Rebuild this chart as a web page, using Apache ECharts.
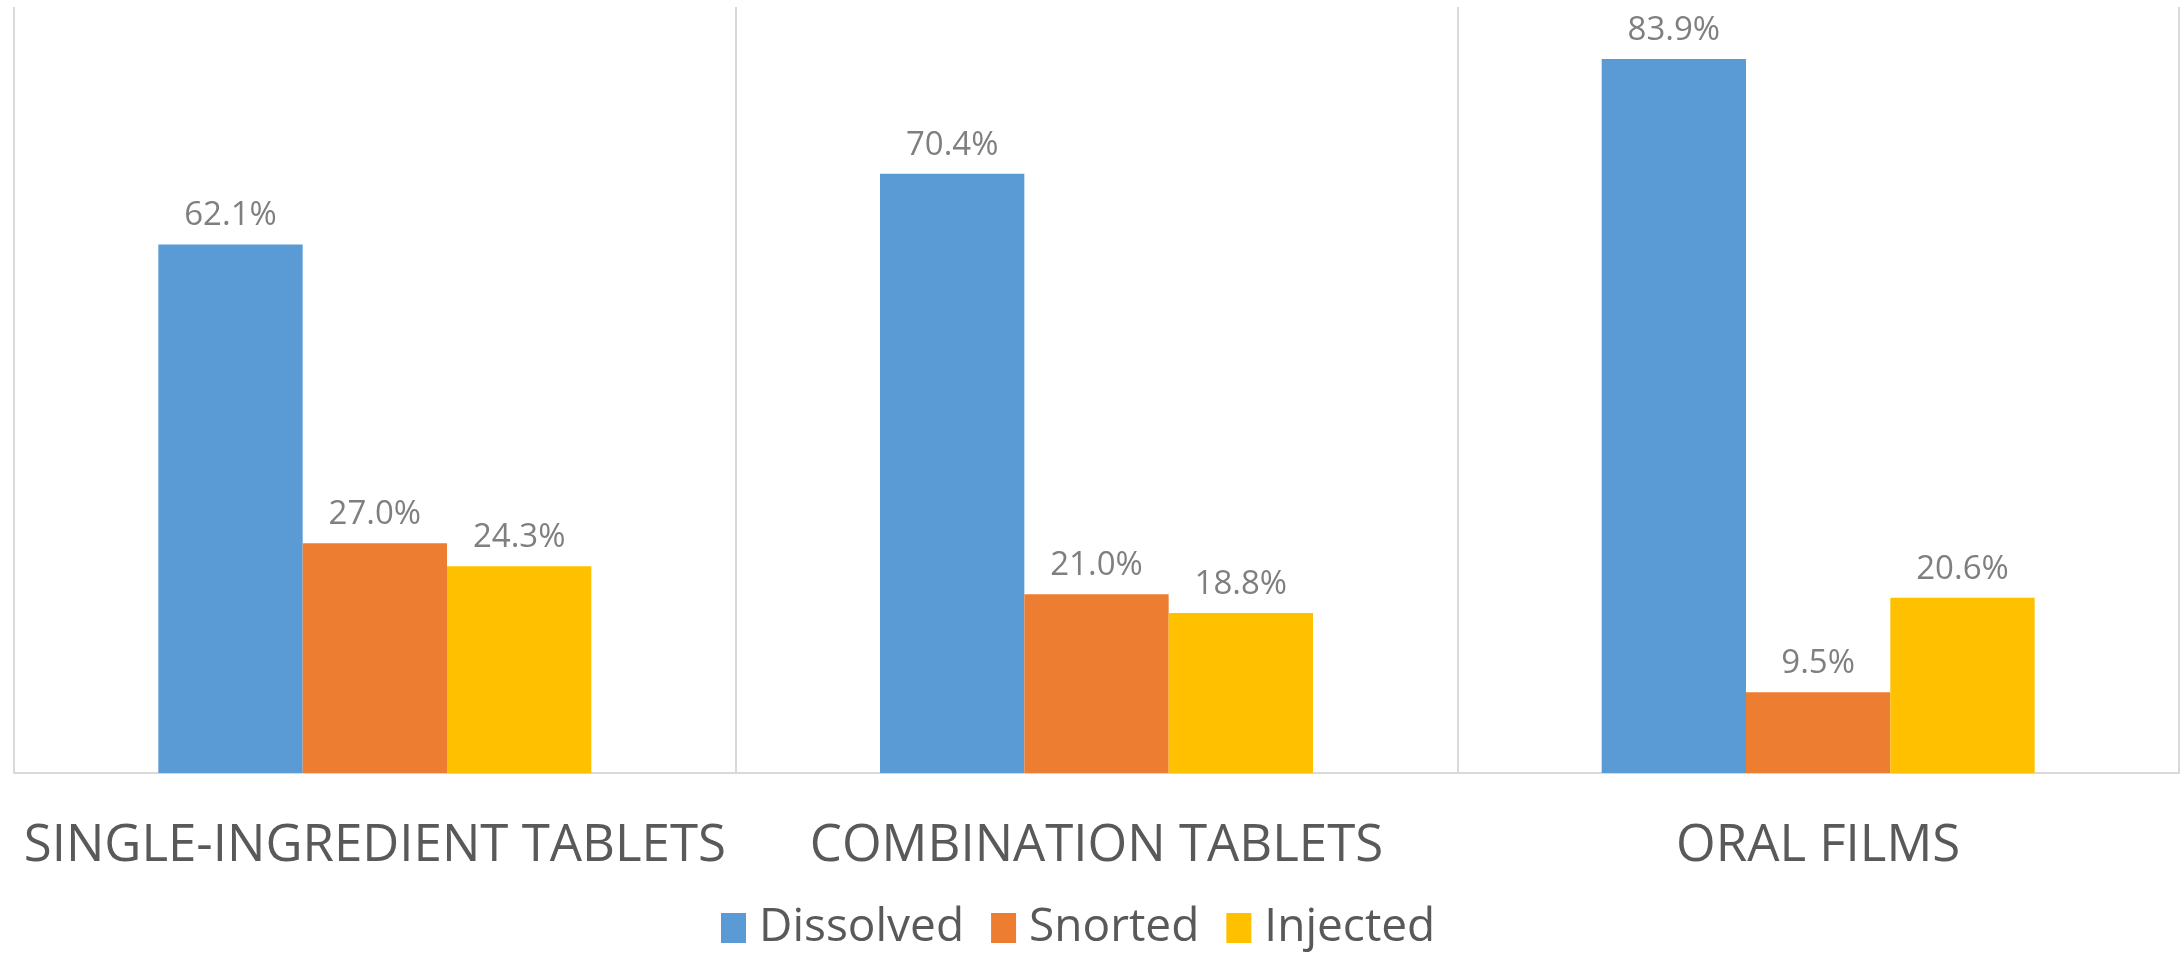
<!DOCTYPE html>
<html>
<head>
<meta charset="utf-8">
<script src="https://cdn.jsdelivr.net/npm/echarts@6/dist/echarts.min.js"></script>
<style>
  html, body { margin: 0; padding: 0; background: #fff; }
  #chart { width: 2180px; height: 957px; }
</style>
</head>
<body>
<div id="chart"></div>
<script>
const categories = ['SINGLE-INGREDIENT TABLETS', 'COMBINATION TABLETS', 'ORAL FILMS']
const dissolved = [62.1, 70.4, 83.9]
const snorted = [27.0, 21.0, 9.5]
const injected = [24.3, 18.8, 20.6]

const chart = echarts.init(document.getElementById('chart'))

const labelStyle = {
  show: true,
  position: 'top',
  distance: 12,
  color: '#7f7f7f',
  fontFamily: 'Open Sans',
  fontSize: 33,
  formatter: p => p.value.toFixed(1) + '%'
}

const option = {
  animation: false,
  color: ['#5b9bd5', '#ed7d31', '#ffc000'],
  grid: { left: 14, right: 1, top: 7, bottom: 184 },
  legend: {
    bottom: 1,
    left: 716,
    icon: 'rect',
    itemWidth: 25,
    itemHeight: 30,
    itemGap: 27,
    data: [
      'Dissolved',
      { name: 'Snorted', textStyle: { padding: [0, 16, 0, 8] } },
      'Injected'
    ],
    textStyle: {
      color: '#595959',
      fontFamily: 'Open Sans',
      fontSize: 46,
      padding: [0, 0, 0, 8]
    }
  },
  xAxis: {
    type: 'category',
    data: categories,
    axisTick: { show: false },
    axisLine: { lineStyle: { color: '#d9d9d9', width: 2 } },
    splitLine: { show: true, interval: 0, lineStyle: { color: '#d9d9d9', width: 2 } },
    axisLabel: {
      interval: 0,
      hideOverlap: false,
      color: '#595959',
      fontFamily: 'Open Sans',
      fontSize: 51,
      margin: 48
    }
  },
  yAxis: {
    type: 'value',
    min: 0,
    max: 90,
    show: false,
    splitLine: { show: false }
  },
  series: [
    { name: 'Dissolved', type: 'bar', data: dissolved, barGap: '0%', barCategoryGap: '40%', label: labelStyle },
    { name: 'Snorted', type: 'bar', data: snorted, label: labelStyle },
    { name: 'Injected', type: 'bar', data: injected, label: labelStyle }
  ]
}

chart.setOption(option)
</script>
</body>
</html>
